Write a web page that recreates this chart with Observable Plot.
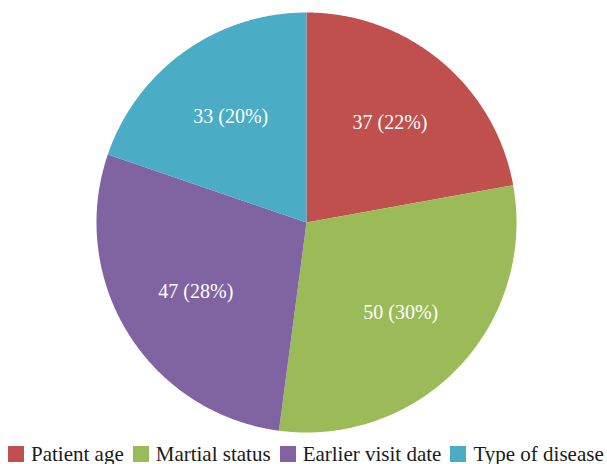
<!DOCTYPE html>
<html><head><meta charset="utf-8">
<script src="https://cdn.jsdelivr.net/npm/d3@7"></script>
<script src="https://cdn.jsdelivr.net/npm/@observablehq/plot@0.6"></script>
<style>
body{margin:0;background:#fff;font-family:"Liberation Serif",serif;overflow:hidden}
#legend{display:flex;align-items:center;height:20px;padding-left:8px;font-size:21px;color:#1a1a1a;white-space:nowrap}
.item{display:flex;align-items:center;margin-right:9px}
.sw{width:16px;height:16px;margin-right:7px}
</style></head><body>
<div id="chart"></div><div id="legend"></div>
<script>
const categories = ["Patient age","Martial status","Earlier visit date","Type of disease"];
const values = [37, 50, 47, 33];
const colors = ["#C0504D","#9BBB59","#8064A2","#4BACC6"];

const total = d3.sum(values);
const arcs = d3.pie().sort(null).value(d => d)(values);
const pts = [];
const labels = [];
arcs.forEach((s, i) => {
  const cat = categories[i];
  pts.push({cat, x: 0, y: 0});
  const n = Math.max(2, Math.ceil((s.endAngle - s.startAngle) / 0.005));
  for (let k = 0; k <= n; k++) {
    const a = s.startAngle + (s.endAngle - s.startAngle) * k / n;
    pts.push({cat, x: Math.sin(a), y: Math.cos(a)});
  }
  pts.push({cat, x: 0, y: 0});
  const m = (s.startAngle + s.endAngle) / 2;
  labels.push({cat, x: 0.62 * Math.sin(m), y: 0.62 * Math.cos(m),
    text: `${values[i]} (${Math.round(values[i] / total * 100)}%)`});
});

const R = 210, W = 607, H = 444, CX = 306;
const chart = Plot.plot({
  width: W, height: H, margin: 0,
  x: {axis: null, domain: [-CX / R, (W - CX) / R], range: [0, W]},
  y: {axis: null, domain: [-(H / 2) / R, (H / 2) / R], range: [H, 0]},
  color: {domain: categories, range: colors},
  style: {background: "#fff"},
  marks: [
    Plot.line(pts, {x: "x", y: "y", z: "cat", fill: "cat", stroke: null, curve: "linear"}),
    Plot.text(labels, {x: "x", y: "y", text: "text", fill: "white", fontSize: 20, fontFamily: "Liberation Serif"})
  ]
});
document.getElementById("chart").appendChild(chart);

const lg = document.getElementById("legend");
categories.forEach((c, i) => {
  const it = document.createElement("div"); it.className = "item";
  const sw = document.createElement("div"); sw.className = "sw"; sw.style.background = colors[i];
  const t = document.createElement("span"); t.textContent = c;
  it.appendChild(sw); it.appendChild(t); lg.appendChild(it);
});
</script></body></html>
